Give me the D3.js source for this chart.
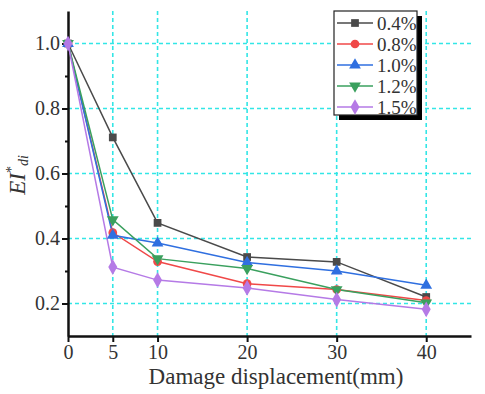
<!DOCTYPE html>
<html><head><meta charset="utf-8">
<script src="https://cdn.jsdelivr.net/npm/d3@7"></script>
<style>body{margin:0;background:#fff}svg{display:block}
text{font-family:"Liberation Serif","Times New Roman",serif !important;}</style>
</head><body>
<svg id="c" width="485" height="394"></svg>
<script>
const xValues = [0, 5, 10, 20, 30, 40];
const seriesNames = ["0.4%", "0.8%", "1.0%", "1.2%", "1.5%"];
const s04 = [1.0, 0.711, 0.448, 0.343, 0.328, 0.220];
const s08 = [1.0, 0.418, 0.329, 0.261, 0.243, 0.209];
const s10 = [1.0, 0.410, 0.386, 0.326, 0.300, 0.256];
const s12 = [1.0, 0.458, 0.338, 0.308, 0.243, 0.202];
const s15 = [1.0, 0.312, 0.272, 0.248, 0.212, 0.182];
const xTicks = [0, 5, 10, 20, 30, 40];
const yTicks = [0.2, 0.4, 0.6, 0.8, 1.0];
const yMinor = [0.3, 0.5, 0.7, 0.9];

const seriesVals = [s04, s08, s10, s12, s15];
const colors = ["#4a4a4a", "#f04848", "#2f6fe0", "#3aa05e", "#b57ae6"];
const symbols = [d3.symbolSquare, d3.symbolCircle, d3.symbolTriangle, "tri-down", d3.symbolDiamond];

const svg = d3.select("#c");
const L = 68, R = 471, T = 11, B = 336;
const x = d3.scaleLinear().domain([0, 45]).range([L, R]);
const y = d3.scaleLinear().domain([0.1, 1.1]).range([B, T]);
const font = "Liberation Serif";

function symPath(s, size) {
  if (s === "tri-down") return d3.symbol(d3.symbolTriangle, size)();
  return d3.symbol(s, size)();
}

// grid
const g = svg.append("g");
g.selectAll(".gx").data(xTicks.filter(d => d > 0)).join("line")
  .attr("x1", d => x(d)).attr("x2", d => x(d)).attr("y1", T).attr("y2", B)
  .attr("stroke", "#33e6e6").attr("stroke-width", 1.6).attr("stroke-dasharray", "4,3");
g.selectAll(".gy").data(yTicks).join("line")
  .attr("x1", L).attr("x2", R).attr("y1", d => y(d)).attr("y2", d => y(d))
  .attr("stroke", "#33e6e6").attr("stroke-width", 1.6).attr("stroke-dasharray", "4,3");

// axes
const xAxis = svg.append("g").attr("transform", `translate(0,${B})`)
  .call(d3.axisBottom(x).tickValues(xTicks).tickSize(6).tickSizeOuter(0).tickFormat(d3.format("d")));
const yAxis = svg.append("g").attr("transform", `translate(${L},0)`)
  .call(d3.axisLeft(y).tickValues(yTicks).tickSize(6).tickSizeOuter(0).tickFormat(d3.format(".1f")));
svg.append("g").attr("transform", `translate(${L},0)`)
  .call(d3.axisLeft(y).tickValues(yMinor).tickSize(3).tickSizeOuter(0).tickFormat(""))
  .call(a => a.select(".domain").remove())
  .selectAll("line").attr("stroke", "#111").attr("stroke-width", 2);
[xAxis, yAxis].forEach(a => {
  a.attr("font-family", font);
  a.select(".domain").attr("stroke", "#111").attr("stroke-width", 2.5);
  a.selectAll(".tick line").attr("stroke", "#111").attr("stroke-width", 2);
  a.selectAll("text").attr("font-size", 20).attr("fill", "#333");
});
xAxis.selectAll("text").attr("y", 9).attr("dy", "0.71em");
yAxis.selectAll("text").attr("x", -8);

// lines
const line = d3.line().x((d, i) => x(xValues[i])).y(d => y(d));
seriesVals.forEach((vals, k) => {
  svg.append("path").datum(vals).attr("d", line)
    .attr("fill", "none").attr("stroke", colors[k]).attr("stroke-width", 1.5);
});
seriesVals.forEach((vals, k) => {
  svg.append("g").selectAll("path").data(vals).join("path")
    .attr("d", symPath(symbols[k], k === 4 ? 70 : 60))
    .attr("transform", (d, i) => `translate(${x(xValues[i])},${y(d)})` + (symbols[k] === "tri-down" ? " rotate(180)" : ""))
    .attr("fill", colors[k]);
});

// legend
const lg = svg.append("g");
lg.append("rect").attr("x", 339).attr("y", 16).attr("width", 83).attr("height", 104).attr("fill", "#000");
lg.append("rect").attr("x", 334).attr("y", 11).attr("width", 83).attr("height", 104)
  .attr("fill", "#fff").attr("stroke", "#222").attr("stroke-width", 1.2);
seriesNames.forEach((n, k) => {
  const yy = 23 + k * 21;
  lg.append("line").attr("x1", 337).attr("x2", 373).attr("y1", yy).attr("y2", yy)
    .attr("stroke", colors[k]).attr("stroke-width", 1.5);
  lg.append("path").attr("d", symPath(symbols[k], k === 4 ? 70 : 60))
    .attr("transform", `translate(355,${yy})` + (symbols[k] === "tri-down" ? " rotate(180)" : ""))
    .attr("fill", colors[k]);
  lg.append("text").attr("x", 377).attr("y", yy).attr("dy", "0.35em")
    .attr("font-family", font).attr("font-size", 19).attr("fill", "#333").text(n);
});

// axis titles
svg.append("text").attr("x", 276).attr("y", 384).attr("text-anchor", "middle")
  .attr("font-family", font).attr("font-size", 23).attr("fill", "#333").text("Damage displacement(mm)");
const yt = svg.append("text").attr("transform", "translate(25,175) rotate(-90)").attr("text-anchor", "middle")
  .attr("font-family", font).attr("font-size", 23).attr("fill", "#333");
yt.append("tspan").attr("font-style", "italic").text("EI");
yt.append("tspan").attr("font-size", 14).attr("dy", -9).text("*");
yt.append("tspan").attr("font-size", 14).attr("font-style", "italic").attr("dy", 12).text("di");
</script>
</body></html>
